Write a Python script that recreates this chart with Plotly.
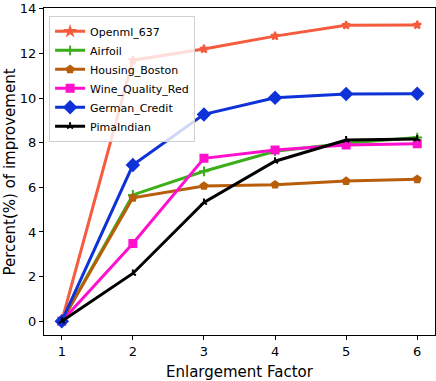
import plotly.graph_objects as go

factor = [1, 2, 3, 4, 5, 6]

openml_637 = [0, 11.7, 12.2, 12.78, 13.27, 13.28]
airfoil = [0, 5.66, 6.72, 7.62, 7.98, 8.23]
housing_boston = [0, 5.53, 6.06, 6.12, 6.28, 6.36]
wine_quality_red = [0, 3.48, 7.3, 7.67, 7.9, 7.95]
german_credit = [0, 7.0, 9.27, 10.02, 10.18, 10.2]
pima_indian = [0, 2.14, 5.32, 7.17, 8.12, 8.17]

series = [
    ('Openml_637', openml_637, '#f55b3c', 'star', 6),
    ('Airfoil', airfoil, '#3cae1c', 'cross-thin-open', 7),
    ('Housing_Boston', housing_boston, '#b85e0a', 'pentagon', 7),
    ('Wine_Quality_Red', wine_quality_red, '#ff10cc', 'square', 7),
    ('German_Credit', german_credit, '#0f32d8', 'diamond', 9),
    ('PimaIndian', pima_indian, '#000000', 'y-up-open', 5),
]

fig = go.Figure()
for name, vals, col, sym, sz in series:
    fig.add_trace(go.Scatter(
        x=factor, y=vals, name=name, mode='lines+markers',
        line=dict(color=col, width=3),
        marker=dict(symbol=sym, size=sz, color=col, line=dict(color=col, width=2)),
    ))

axis_common = dict(
    showline=True, linecolor='black', linewidth=1, mirror=True,
    ticks='outside', ticklen=4, tickcolor='black', showgrid=False, zeroline=False,
    tickfont=dict(size=13, color='black'), automargin=False, ticklabeloverflow='allow',
)

fig.update_layout(
    width=436, height=381,
    margin=dict(l=44, r=1, t=8, b=46),
    paper_bgcolor='white', plot_bgcolor='white',
    font=dict(family='DejaVu Sans', color='black'),
    xaxis=dict(range=[0.75, 6.25], tickvals=factor, **axis_common),
    yaxis=dict(range=[-0.62, 14.04], tickvals=[0, 2, 4, 6, 8, 10, 12, 14], **axis_common),
    legend=dict(x=0.013, y=0.976, xanchor='left', yanchor='top',
                bgcolor='rgba(255,255,255,0.8)', bordercolor='#d0d0d0', borderwidth=1,
                font=dict(size=11), tracegroupgap=0, itemwidth=30),
    annotations=[
        dict(text='Enlargement Factor', x=0.5, y=-0.114, xref='paper', yref='paper',
             xanchor='center', yanchor='middle', showarrow=False, font=dict(size=15)),
        dict(text='Percent(%) of improvement', x=-0.087, y=0.5, xref='paper', yref='paper',
             xanchor='center', yanchor='middle', textangle=-90, showarrow=False,
             font=dict(size=15)),
    ],
)

# page body has an 8px default margin; drop it so the figure sits at 0,0
fig.write_html("out.html", config={'displayModeBar': False},
               post_script="document.body.style.margin='0';")
